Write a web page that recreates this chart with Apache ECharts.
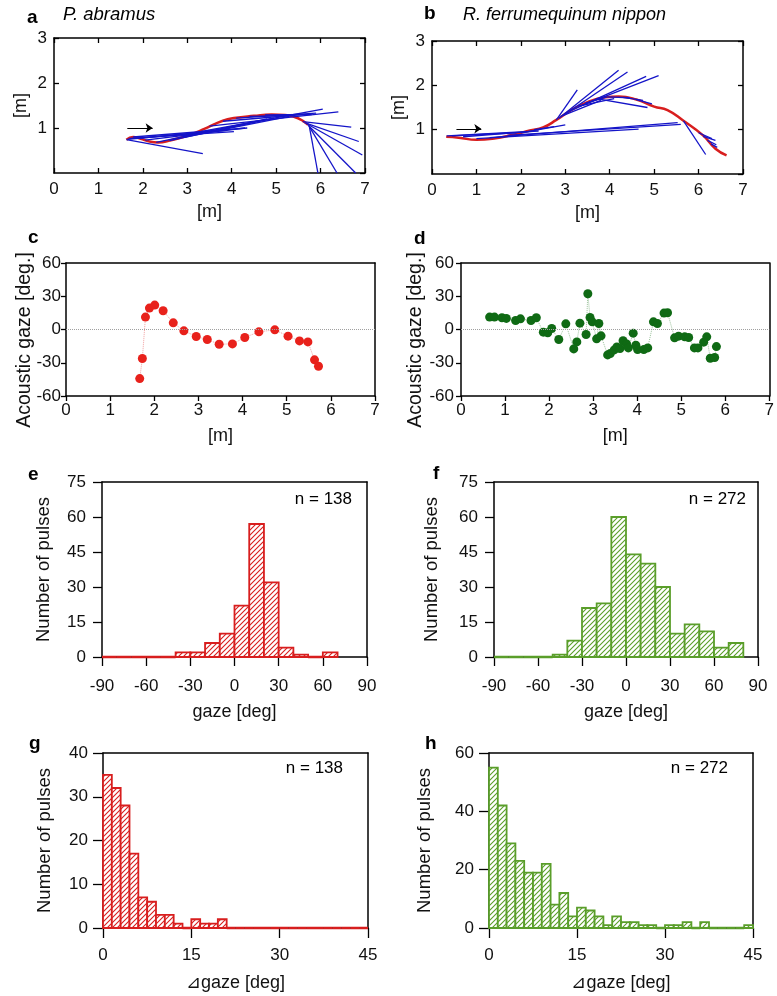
<!DOCTYPE html>
<html>
<head>
<meta charset="utf-8">
<script src="https://cdn.jsdelivr.net/npm/echarts@6/dist/echarts.min.js"></script>
<style>
  html, body { margin: 0; padding: 0; background: #fff; }
  #main { width: 777px; height: 996px; }
</style>
</head>
<body>
<div id="main"></div>
<script>
// ---- a / b : flight path (x,y in m) and gaze beams [x0,y0,x1,y1]
const pathA = [[1.63,0.74],[1.78,0.80],[1.95,0.76],[2.15,0.70],[2.35,0.68],[2.6,0.72],[2.95,0.81],[3.2,0.90],
  [3.45,1.01],[3.8,1.16],[4.05,1.22],[4.5,1.27],[4.9,1.30],[5.2,1.29],[5.4,1.25],[5.6,1.16],[5.72,1.07]];
const beamsA = [
  [1.63,0.74,3.35,0.43],[1.66,0.75,3.6,0.93],[1.70,0.77,4.05,0.92],[1.78,0.80,4.35,1.0],
  [1.9,0.77,3.9,0.95],[2.05,0.73,4.3,1.0],[2.3,0.68,4.8,1.2],[2.6,0.72,4.95,1.22],
  [2.95,0.80,5.3,1.26],[3.2,0.90,6.05,1.42],[3.5,1.04,6.4,1.36],[3.8,1.15,5.6,1.30],
  [4.1,1.22,5.9,1.33],[4.4,1.26,5.4,1.28],[4.75,1.29,5.8,1.30],[5.6,1.14,6.69,1.02],
  [5.64,1.12,6.86,0.70],[5.68,1.10,6.94,0.40],[5.72,1.06,6.79,0.0],[5.74,1.04,6.37,0.0],
  [5.75,1.02,5.94,0.0]
];
const arrowA = [[1.65,1.0],[2.22,1.0]];

const pathB = [[0.32,0.84],[0.6,0.82],[1.0,0.77],[1.4,0.80],[1.8,0.88],[2.2,0.98],[2.5,1.05],[2.8,1.22],
  [3.1,1.42],[3.5,1.62],[3.9,1.73],[4.2,1.75],[4.6,1.68],[5.0,1.52],[5.3,1.44],[5.66,1.20],[6.1,0.87],
  [6.38,0.57],[6.63,0.42]];
const beamsB = [
  [0.33,0.86,2.4,0.97],[0.45,0.86,1.9,0.93],[0.7,0.84,2.25,0.96],[1.0,0.80,4.65,1.01],
  [1.3,0.82,5.53,1.16],[1.7,0.87,5.6,1.12],[2.0,0.93,3.0,1.11],[2.3,1.00,2.75,1.07],
  [2.8,1.22,3.27,1.90],[2.85,1.25,4.2,2.34],[2.95,1.32,4.4,2.30],[3.1,1.42,4.82,2.20],
  [3.3,1.52,5.1,2.22],[3.45,1.60,3.95,1.74],[3.7,1.70,4.85,1.50],[3.95,1.74,4.45,1.72],
  [4.3,1.73,4.75,1.66],[4.6,1.68,4.95,1.58],[5.66,1.20,6.16,0.44],[6.0,0.93,6.3,0.80],
  [6.1,0.85,6.38,0.76],[6.2,0.76,6.4,0.66],[6.28,0.68,6.42,0.60],[2.9,1.30,3.8,1.66],
  [3.3,1.53,4.1,1.70]
];
const arrowB = [[0.55,1.02],[1.11,1.02]];

// ---- c / d : acoustic gaze [deg] vs x [m]
const gazeC = [[1.67,-44.3],[1.73,-26.2],[1.80,11.2],[1.89,19.3],[2.01,22.0],[2.20,16.9],[2.43,6.0],
  [2.67,-1.2],[2.95,-6.3],[3.20,-9.0],[3.47,-13.3],[3.77,-13.0],[4.05,-7.2],[4.37,-2.1],[4.73,-0.3],
  [5.03,-6.0],[5.29,-10.3],[5.48,-11.2],[5.63,-27.4],[5.72,-33.2]];
const gazeD = [[0.65,11.2],[0.76,11.2],[0.93,10.6],[1.03,10.0],[1.24,8.1],[1.35,9.6],[1.59,8.1],[1.71,10.6],
  [1.87,-2.4],[1.97,-3.0],[2.06,0.9],[2.22,-9.0],[2.38,5.1],[2.56,-17.5],[2.63,-11.2],[2.70,5.7],
  [2.84,-4.5],[2.88,32.3],[2.93,10.9],[2.98,6.9],[3.08,-8.4],[3.13,5.4],[3.18,-5.7],[3.33,-22.9],
  [3.39,-21.7],[3.48,-18.4],[3.54,-15.7],[3.61,-17.2],[3.68,-10.2],[3.76,-13.0],[3.80,-16.6],
  [3.91,-3.3],[3.97,-14.2],[4.01,-18.1],[4.15,-18.1],[4.24,-16.6],[4.37,6.9],[4.46,5.4],[4.61,14.8],
  [4.69,15.1],[4.85,-7.5],[4.94,-6.0],[5.08,-6.6],[5.17,-7.2],[5.30,-16.6],[5.38,-16.6],[5.51,-11.4],
  [5.58,-6.6],[5.66,-25.9],[5.76,-25.3],[5.80,-15.4]];

// ---- e / f : gaze histograms, 10 deg bins starting at -90
const gazeBinStart = -90, gazeBinWidth = 10;
const countsE = [0,0,0,0,0,2,2,6,10,22,57,32,4,1,0,2];
const countsF = [0,0,0,0,1,7,21,23,60,44,40,30,10,14,11,4,6];

// ---- g / h : delta gaze histograms, 1.5 deg bins starting at 0
const dBinStart = 0, dBinWidth = 1.5;
const countsG = [35,32,28,17,7,6,3,3,1,0,2,1,1,2,0,0,0,0,0,0,0,0,0,0,0,0,0,0,0,0];
const countsH = [55,42,29,23,19,19,22,8,12,4,7,6,4,1,4,2,2,1,1,0,1,1,2,0,2,0,0,0,0,1];

const FONT = '"Liberation Sans", Arial, Helvetica, sans-serif';
const RED = '#d81e1e';
const GREEN = '#5a9e2a';

// diagonal "/" hatch used as bar fill
function hatch(color) {
  const s = 5;
  const c = document.createElement('canvas');
  c.width = s; c.height = s;
  const ctx = c.getContext('2d');
  ctx.fillStyle = '#fff';
  ctx.fillRect(0, 0, s, s);
  ctx.strokeStyle = color;
  ctx.lineWidth = 1.1;
  ctx.beginPath();
  ctx.moveTo(0, s); ctx.lineTo(s, 0);
  ctx.moveTo(-1, 1); ctx.lineTo(1, -1);
  ctx.moveTo(s - 1, s + 1); ctx.lineTo(s + 1, s - 1);
  ctx.stroke();
  return { image: c, repeat: 'repeat' };
}

const grids = [
  { left: 54, top: 38, width: 311, height: 135 },
  { left: 432, top: 41, width: 311, height: 133 },
  { left: 66, top: 263, width: 309, height: 133 },
  { left: 461, top: 263, width: 310, height: 133 },
  { left: 102, top: 482, width: 265, height: 175 },
  { left: 494, top: 482, width: 264, height: 175 },
  { left: 103, top: 753, width: 265, height: 175 },
  { left: 489, top: 753, width: 264, height: 175 }
];

const xAxes = [], yAxes = [];
function addAxes(g, o) {
  const line = { show: true, onZero: false, lineStyle: { color: '#000', width: 1.5 } };
  const tick = { show: true, inside: o.inside, length: o.tick, lineStyle: { color: '#000', width: 1.3 } };
  const lab = { fontSize: 17, color: '#111', fontFamily: FONT };
  xAxes.push({ gridIndex: g, type: 'value', position: 'bottom', min: o.x[0], max: o.x[1], interval: o.x[2],
    axisLine: line, axisTick: tick, splitLine: { show: false },
    axisLabel: Object.assign({ margin: o.xm }, lab),
    name: o.xn, nameLocation: 'middle', nameGap: o.xg,
    nameTextStyle: { fontSize: 18, color: '#111', fontFamily: FONT } });
  xAxes.push({ gridIndex: g, type: 'value', position: 'top', min: o.x[0], max: o.x[1], interval: o.x[2],
    axisLine: line, axisTick: Object.assign({}, tick, { show: o.inside }), splitLine: { show: false },
    axisLabel: { show: false } });
  yAxes.push({ gridIndex: g, type: 'value', position: 'left', min: o.y[0], max: o.y[1], interval: o.y[2],
    axisLine: line, axisTick: tick, splitLine: { show: false },
    axisLabel: Object.assign({ margin: o.ym, showMinLabel: o.yMinLabel }, lab),
    name: o.yn, nameLocation: 'middle', nameGap: o.yg,
    nameTextStyle: { fontSize: o.ys, color: '#111', fontFamily: FONT } });
  yAxes.push({ gridIndex: g, type: 'value', position: 'right', min: o.y[0], max: o.y[1], interval: o.y[2],
    axisLine: line, axisTick: Object.assign({}, tick, { show: o.inside }), splitLine: { show: false },
    axisLabel: { show: false } });
}

const trackAx = { x: [0, 7, 1], y: [0, 3, 1], inside: true, tick: 5, xm: 8, ym: 7, yMinLabel: false,
  xn: '[m]', xg: 30, yn: '[m]', yg: 24, ys: 18 };
addAxes(0, trackAx);
addAxes(1, trackAx);
// the gaze y title sits lower than the plot centre, so it is drawn as a graphic below
const gazeAx = { x: [0, 7, 1], y: [-60, 60, 30], inside: false, tick: 5, xm: 6, ym: 5, yMinLabel: true,
  xn: '[m]', xg: 31, yn: '', yg: 30, ys: 19.5 };
addAxes(2, gazeAx);
addAxes(3, Object.assign({}, gazeAx, { ym: 7 }));
const histAx = { x: [-90, 90, 30], y: [0, 75, 15], inside: false, tick: 9, xm: 21, ym: 16, yMinLabel: true,
  xn: 'gaze [deg]', xg: 46, yn: 'Number of pulses', yg: 49, ys: 18.5 };
addAxes(4, histAx);
addAxes(5, Object.assign({}, histAx, { yg: 53 }));
const dAx = { x: [0, 45, 15], y: [0, 40, 10], inside: false, tick: 10, xm: 19, ym: 15, yMinLabel: true,
  xn: '⊿gaze [deg]', xg: 46, yn: 'Number of pulses', yg: 49, ys: 18.5 };
addAxes(6, dAx);
addAxes(7, Object.assign({}, dAx, { y: [0, 60, 20], yg: 55 }));

function track(g, path, beams, arrow) {
  return [
    { type: 'line', xAxisIndex: 2 * g, yAxisIndex: 2 * g, data: path, smooth: true, symbol: 'none',
      lineStyle: { color: RED, width: 2.5 }, z: 2 },
    { type: 'lines', coordinateSystem: 'cartesian2d', xAxisIndex: 2 * g, yAxisIndex: 2 * g,
      data: beams.map(b => ({ coords: [[b[0], b[1]], [b[2], b[3]]] })),
      lineStyle: { color: '#1414c8', width: 1.3, opacity: 1 }, z: 3 },
    { type: 'lines', coordinateSystem: 'cartesian2d', xAxisIndex: 2 * g, yAxisIndex: 2 * g,
      data: [{ coords: arrow }], symbol: ['none', 'arrow'], symbolSize: 7,
      lineStyle: { color: '#000', width: 1.2, opacity: 1 }, z: 4 }
  ];
}

function gaze(g, pts, color, dotted) {
  return {
    type: 'line', xAxisIndex: 2 * g, yAxisIndex: 2 * g, data: pts,
    symbol: 'circle', symbolSize: 9, itemStyle: { color: color },
    lineStyle: { color: dotted, width: 1, type: 'dotted' },
    markLine: { silent: true, symbol: 'none', label: { show: false },
      lineStyle: { color: '#a0a0a0', width: 1, type: 'dotted' }, data: [{ yAxis: 0 }] }
  };
}

function hist(g, start, width, counts, color) {
  const fill = hatch(color);
  return {
    type: 'custom', xAxisIndex: 2 * g, yAxisIndex: 2 * g,
    data: counts.map((c, i) => [start + i * width, start + (i + 1) * width, c]),
    encode: { x: [0, 1], y: 2 },
    renderItem: function (params, api) {
      const p0 = api.coord([api.value(0), api.value(2)]);
      const p1 = api.coord([api.value(1), 0]);
      return {
        type: 'rect',
        shape: { x: p0[0], y: p0[1], width: p1[0] - p0[0], height: p1[1] - p0[1] },
        style: { fill: fill, stroke: color, lineWidth: api.value(2) === 0 ? 2.6 : 1.8 }
      };
    },
    z: 3
  };
}

function txt(x, y, text, font, align) {
  return { type: 'text', x: x, y: y, style: { text: text, font: font, fill: '#000',
    align: align || 'left', verticalAlign: 'middle' } };
}
function vtxt(x, y, text, font) {
  return { type: 'text', x: x, y: y, rotation: Math.PI / 2,
    style: { text: text, font: font, fill: '#111', align: 'center', verticalAlign: 'middle' } };
}

const letterFont = 'bold 19px ' + FONT;
const nFont = '17px ' + FONT;

const option = {
  animation: false,
  backgroundColor: '#fff',
  textStyle: { fontFamily: FONT },
  grid: grids,
  xAxis: xAxes,
  yAxis: yAxes,
  graphic: [
    txt(27, 18, 'a', letterFont), txt(63, 15, 'P. abramus', 'italic 18.5px ' + FONT),
    txt(424, 14, 'b', letterFont), txt(463, 15, 'R. ferrumequinum nippon', 'italic 18px ' + FONT),
    txt(28, 238, 'c', letterFont), txt(414, 239, 'd', letterFont),
    txt(28, 475, 'e', letterFont), txt(433, 474, 'f', letterFont),
    txt(29, 744, 'g', letterFont), txt(425, 744, 'h', letterFont),
    vtxt(25, 340, 'Acoustic gaze [deg.]', '19.5px ' + FONT),
    vtxt(416, 340, 'Acoustic gaze [deg.]', '19.5px ' + FONT),
    txt(352, 499, 'n = 138', nFont, 'right'), txt(746, 499, 'n = 272', nFont, 'right'),
    txt(343, 768, 'n = 138', nFont, 'right'), txt(728, 768, 'n = 272', nFont, 'right')
  ],
  series: [].concat(
    track(0, pathA, beamsA, arrowA),
    track(1, pathB, beamsB, arrowB),
    [gaze(2, gazeC, '#e8211b', '#f2a0a0'), gaze(3, gazeD, '#0f6a14', '#9cc39c')],
    [hist(4, gazeBinStart, gazeBinWidth, countsE, RED), hist(5, gazeBinStart, gazeBinWidth, countsF, GREEN)],
    [hist(6, dBinStart, dBinWidth, countsG, RED), hist(7, dBinStart, dBinWidth, countsH, GREEN)]
  )
};

const chart = echarts.init(document.getElementById('main'), null, { renderer: 'canvas' });
chart.setOption(option);
</script>
</body>
</html>
